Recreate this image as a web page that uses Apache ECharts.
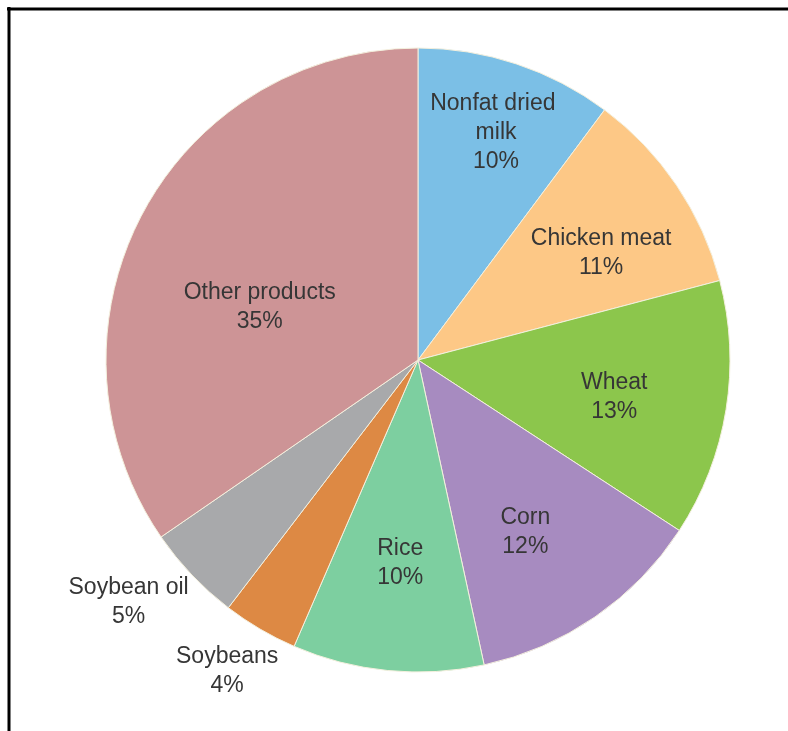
<!DOCTYPE html>
<html>
<head>
<meta charset="utf-8">
<style>
html,body{margin:0;padding:0;background:#fff;}
#chart{width:788px;height:731px;}
</style>
<script src="https://cdn.jsdelivr.net/npm/echarts@6/dist/echarts.min.js"></script>
</head>
<body>
<div id="chart"></div>
<script>
// Data (shares in percent; labels show rounded values)
const categories = ['Nonfat dried milk', 'Chicken meat', 'Wheat', 'Corn', 'Rice', 'Soybeans', 'Soybean oil', 'Other products'];
const shares = [10.2, 10.7, 13.3, 12.4, 9.9, 3.9, 5.0, 34.6];

// Styles
const colors = ['#7BBFE6', '#FDC886', '#8CC64C', '#A78BC0', '#7DCFA0', '#DD8944', '#A8A9AB', '#CD9496'];
// label placement: [fraction of radius, angle shift in degrees]
const labelPlace = [[0.77, 0.6], [0.68, 3.7], [0.64, 1.6], [0.65, 2.6], [0.655, -0.6], [1.17, 1.1], [1.21, 3.6], [0.535, -9.2]];

const cx = 418, cy = 360, R = 312;
const total = shares.reduce((a, b) => a + b, 0);
const midAngles = [];
let acc = 0;
shares.forEach(v => { midAngles.push((acc + v / 2) / total * 360); acc += v; });

const chart = echarts.init(document.getElementById('chart'));
chart.setOption({
  backgroundColor: '#ffffff',
  animation: false,
  graphic: [
    { type: 'line', shape: { x1: 7, y1: 9, x2: 788, y2: 9 }, style: { stroke: '#000', lineWidth: 3 } },
    { type: 'line', shape: { x1: 9, y1: 7, x2: 9, y2: 731 }, style: { stroke: '#000', lineWidth: 3 } }
  ],
  series: [{
    type: 'pie',
    center: [cx, cy],
    radius: R,
    startAngle: 90,
    clockwise: true,
    avoidLabelOverlap: false,
    itemStyle: { borderColor: '#f4f0de', borderWidth: 1 },
    label: {
      show: true,
      position: 'inside',
      formatter: p => p.name + '\n' + Math.round(p.value) + '%',
      fontFamily: 'Liberation Sans, Arial, sans-serif',
      fontSize: 23,
      lineHeight: 29,
      color: '#363636',
      align: 'center'
    },
    labelLine: { show: false },
    labelLayout: function (params) {
      const i = params.dataIndex;
      const a = (midAngles[i] + labelPlace[i][1]) * Math.PI / 180;
      const d = labelPlace[i][0] * R;
      return {
        x: cx + d * Math.sin(a),
        y: cy - d * Math.cos(a),
        align: 'center',
        verticalAlign: 'middle'
      };
    },
    data: categories.map((n, i) => ({
      name: n,
      value: shares[i],
      itemStyle: { color: colors[i] },
      label: i === 0 ? { width: 135, overflow: 'break' } : {}
    }))
  }]
});
</script>
</body>
</html>
